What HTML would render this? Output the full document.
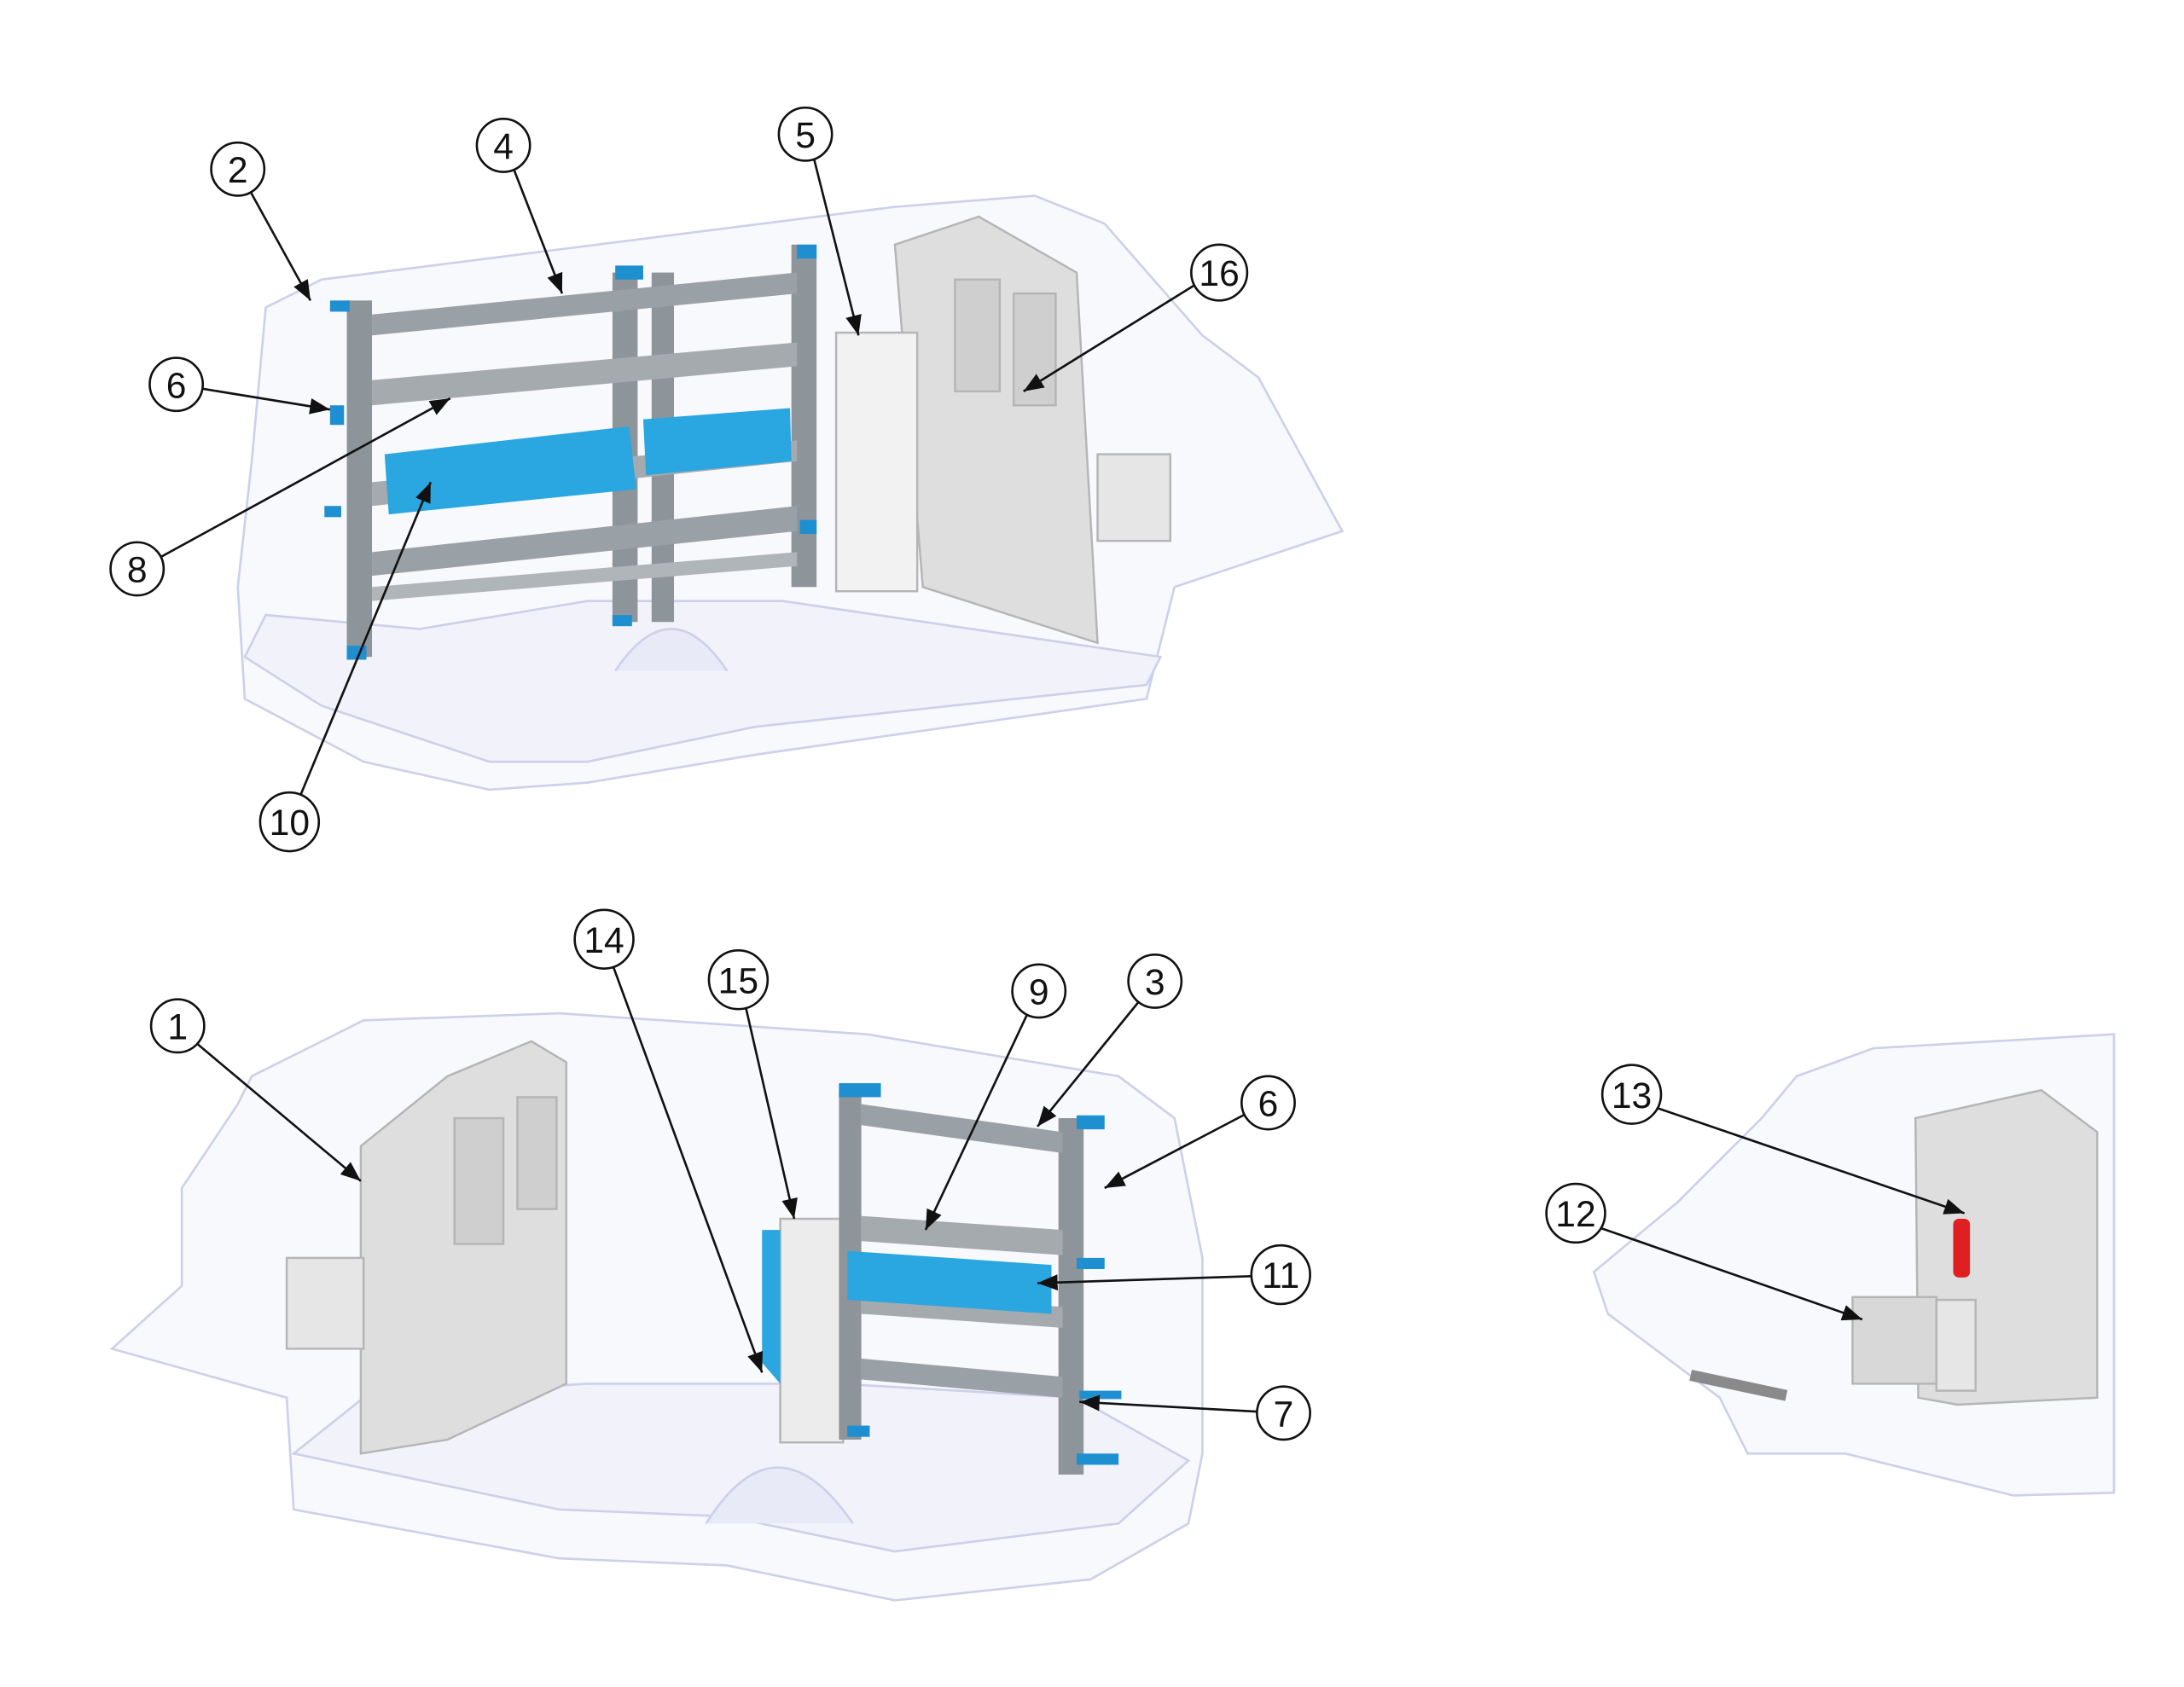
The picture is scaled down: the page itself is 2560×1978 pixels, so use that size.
<!DOCTYPE html>
<html><head><meta charset="utf-8"><style>
html,body{margin:0;padding:0;background:#fff}
svg{display:block}
text{font-family:"Liberation Sans",sans-serif;font-size:26px;fill:#111}
</style></head><body>
<svg width="2560" height="1978" viewBox="0 0 1562 1207" xmlns="http://www.w3.org/2000/svg">
<defs>
<marker id="a" viewBox="0 0 10 10" refX="10" refY="5" markerWidth="9" markerHeight="9" orient="auto-start-reverse"><path d="M0,1 L10,5 L0,9 z" fill="#111"/></marker>
</defs>
<rect width="1562" height="1207" fill="#fff"/>

<!-- ===== VAN 1 ===== -->
<g stroke="#ccd0ea" stroke-width="1.6" fill="#f8f9fd">
<path d="M190,220 L230,200 L640,148 L740,140 L790,160 L860,240 L900,270 L960,380 L900,400 L840,420 L820,500 L540,540 L420,560 L350,565 L260,545 L175,500 L170,420 L180,330 Z"/>
<path d="M175,470 L230,505 L350,545 L420,545 L540,520 L820,490 L830,470 L560,430 L420,430 L300,450 L190,440 Z" fill="#f1f2fa"/>
<path d="M440,480 Q480,420 520,480" fill="#e8eaf7"/>
</g>
<g stroke="#b5b5b5" stroke-width="1.5">
<path d="M640,175 L700,155 L770,195 L785,460 L660,420 Z" fill="#dedede"/>
<rect x="598" y="238" width="58" height="185" fill="#f2f2f2"/>
<rect x="683" y="200" width="32" height="80" fill="#cfcfcf"/>
<rect x="725" y="210" width="30" height="80" fill="#cfcfcf"/>
<rect x="785" y="325" width="52" height="62" fill="#e6e6e6"/>
</g>
<g>
<rect x="248" y="215" width="18" height="255" fill="#8e959a"/>
<rect x="438" y="195" width="18" height="250" fill="#8e959a"/>
<rect x="466" y="195" width="16" height="250" fill="#8e959a"/>
<rect x="566" y="175" width="18" height="245" fill="#8e959a"/>
<polygon points="266,225 570,195 570,210 266,240" fill="#9aa1a6"/>
<polygon points="266,272 570,245 570,262 266,290" fill="#a4aaae"/>
<polygon points="266,345 570,315 570,330 266,362" fill="#a4aaae"/>
<polygon points="266,395 570,362 570,380 266,412" fill="#9aa1a6"/>
<polygon points="266,420 570,395 570,405 266,430" fill="#b0b5b9"/>
<polygon points="275,325 450,305 455,350 278,368" fill="#2aa6e0"/>
<polygon points="460,300 565,292 566,330 462,340" fill="#2aa6e0"/>
<g fill="#1e8fd0"><rect x="236" y="215" width="14" height="8"/><rect x="236" y="290" width="10" height="14"/><rect x="232" y="362" width="12" height="8"/><rect x="248" y="462" width="14" height="10"/><rect x="438" y="440" width="14" height="8"/><rect x="570" y="175" width="14" height="10"/><rect x="572" y="372" width="12" height="10"/><rect x="440" y="190" width="20" height="10"/></g>
</g>

<!-- ===== VAN 2 ===== -->
<g stroke="#ccd0ea" stroke-width="1.6" fill="#f8f9fd">
<path d="M180,770 L260,730 L400,725 L620,740 L800,770 L840,800 L860,900 L860,1040 L850,1090 L780,1130 L640,1145 L520,1120 L400,1115 L210,1080 L205,1000 L80,965 L130,920 L130,850 L170,790 Z"/>
<path d="M210,1040 L400,1080 L520,1085 L640,1110 L800,1090 L850,1045 L770,1000 L600,990 L420,990 L260,1000 Z" fill="#f1f2fa"/>
<path d="M505,1090 Q555,1010 610,1090" fill="#e8eaf7"/>
</g>
<g stroke="#b5b5b5" stroke-width="1.5">
<path d="M258,820 L320,770 L380,745 L405,760 L405,990 L320,1030 L258,1040 Z" fill="#dedede"/>
<rect x="325" y="800" width="35" height="90" fill="#cfcfcf"/>
<rect x="370" y="785" width="28" height="80" fill="#cfcfcf"/>
<rect x="205" y="900" width="55" height="65" fill="#e6e6e6"/>
<rect x="558" y="872" width="45" height="160" fill="#ececec"/>
</g>
<g>
<rect x="600" y="780" width="16" height="250" fill="#8e959a"/>
<rect x="757" y="800" width="18" height="255" fill="#8e959a"/>
<polygon points="616,790 760,810 760,825 616,805" fill="#9aa1a6"/>
<polygon points="616,870 760,880 760,898 616,888" fill="#a4aaae"/>
<polygon points="616,925 760,935 760,950 616,940" fill="#a4aaae"/>
<polygon points="616,972 760,985 760,1000 616,987" fill="#9aa1a6"/>
<polygon points="606,895 752,905 752,940 606,930" fill="#2aa6e0"/>
<polygon points="545,880 558,880 558,990 545,975" fill="#2aa6e0"/>
<g fill="#1e8fd0"><rect x="600" y="775" width="30" height="10"/><rect x="770" y="798" width="20" height="10"/><rect x="770" y="900" width="20" height="8"/><rect x="772" y="995" width="30" height="6"/><rect x="770" y="1040" width="30" height="8"/><rect x="606" y="1020" width="16" height="8"/></g>
</g>

<!-- ===== VAN 3 ===== -->
<g stroke="#ccd0ea" stroke-width="1.6" fill="#f8f9fd">
<path d="M1285,770 L1340,750 L1512,740 L1512,1068 L1440,1070 L1320,1040 L1250,1040 L1230,1000 L1150,940 L1140,910 L1200,860 L1260,800 Z"/>
</g>
<g stroke="#b5b5b5" stroke-width="1.5">
<path d="M1370,800 L1460,780 L1500,810 L1500,1000 L1400,1005 L1372,1000 Z" fill="#dedede"/>
<rect x="1325" y="928" width="60" height="62" fill="#d8d8d8"/>
<rect x="1385" y="930" width="28" height="65" fill="#e6e6e6"/>
</g>
<rect x="1397" y="872" width="12" height="42" rx="4" fill="#e02020"/>
<rect x="1210" y="980" width="70" height="8" fill="#8a8a8a" transform="rotate(12 1210 980)"/>

<!-- ===== CALLOUTS ===== -->
<g stroke="#111" stroke-width="1.6" fill="none">
<line x1="179" y1="137" x2="222" y2="215" marker-end="url(#a)"/>
<line x1="367" y1="120" x2="402" y2="210" marker-end="url(#a)"/>
<line x1="582" y1="113" x2="614" y2="240" marker-end="url(#a)"/>
<line x1="856" y1="203" x2="732" y2="280" marker-end="url(#a)"/>
<line x1="144" y1="278" x2="236" y2="293" marker-end="url(#a)"/>
<line x1="114" y1="399" x2="322" y2="285" marker-end="url(#a)"/>
<line x1="214" y1="571" x2="308" y2="345" marker-end="url(#a)"/>
<line x1="140" y1="746" x2="258" y2="845" marker-end="url(#a)"/>
<line x1="438" y1="690" x2="545" y2="982" marker-end="url(#a)"/>
<line x1="533" y1="719" x2="568" y2="872" marker-end="url(#a)"/>
<line x1="735" y1="725" x2="662" y2="880" marker-end="url(#a)"/>
<line x1="815" y1="716" x2="742" y2="806" marker-end="url(#a)"/>
<line x1="891" y1="797" x2="790" y2="850" marker-end="url(#a)"/>
<line x1="898" y1="913" x2="742" y2="918" marker-end="url(#a)"/>
<line x1="900" y1="1010" x2="772" y2="1003" marker-end="url(#a)"/>
<line x1="1183" y1="792" x2="1405" y2="868" marker-end="url(#a)"/>
<line x1="1143" y1="878" x2="1332" y2="944" marker-end="url(#a)"/>
</g>
<g stroke="#111" stroke-width="1.6" fill="#fff">
<circle cx="170" cy="121" r="19"/><circle cx="360" cy="104" r="19"/><circle cx="576" cy="96" r="19"/>
<circle cx="872" cy="195" r="20"/><circle cx="126" cy="275" r="19"/><circle cx="98" cy="407" r="19"/>
<circle cx="207" cy="588" r="21"/><circle cx="127" cy="734" r="19"/><circle cx="432" cy="672" r="21"/>
<circle cx="528" cy="701" r="21"/><circle cx="743" cy="709" r="19"/><circle cx="826" cy="702" r="19"/>
<circle cx="907" cy="789" r="19"/><circle cx="916" cy="912" r="21"/><circle cx="918" cy="1011" r="19"/>
<circle cx="1167" cy="783" r="21"/><circle cx="1127" cy="868" r="21"/>
</g>
<g text-anchor="middle" dominant-baseline="central">
<text x="170" y="122">2</text><text x="360" y="105">4</text><text x="576" y="97">5</text>
<text x="872" y="196">16</text><text x="126" y="276">6</text><text x="98" y="408">8</text>
<text x="207" y="589">10</text><text x="127" y="735">1</text><text x="432" y="673">14</text>
<text x="528" y="702">15</text><text x="743" y="710">9</text><text x="826" y="703">3</text>
<text x="907" y="790">6</text><text x="916" y="913">11</text><text x="918" y="1012">7</text>
<text x="1167" y="784">13</text><text x="1127" y="869">12</text>
</g>
</svg>
</body></html>
